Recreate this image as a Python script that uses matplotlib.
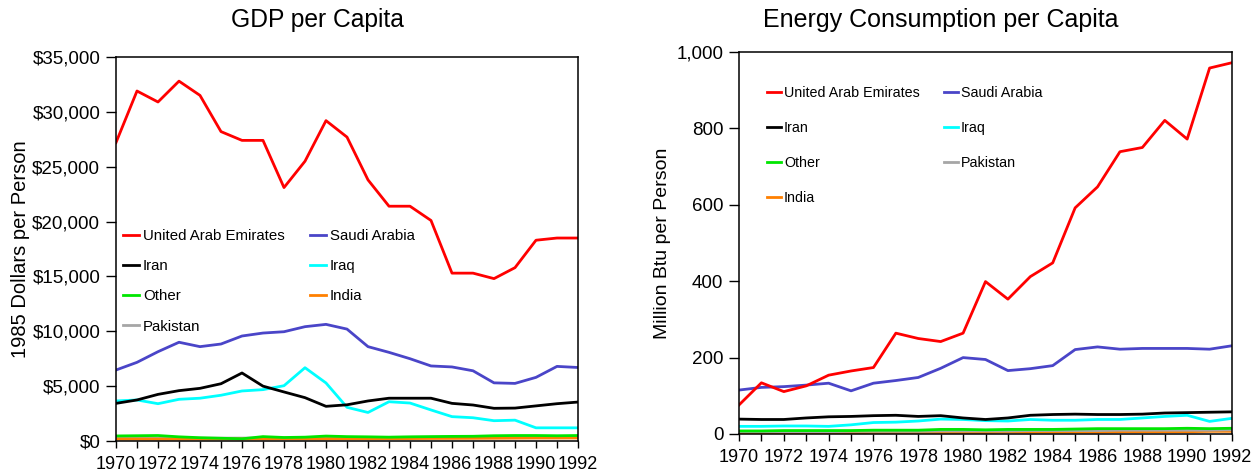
import matplotlib
matplotlib.use("Agg")
import matplotlib.pyplot as plt
from matplotlib import font_manager as fm
from matplotlib.ticker import FuncFormatter, MultipleLocator

years = list(range(1970, 1993))

# GDP per capita (1985 dollars per person)
gdp_uae = [27200, 31900, 30900, 32800, 31500, 28200, 27400, 27400, 23100, 25500, 29200, 27700,
           23800, 21400, 21400, 20100, 15300, 15300, 14800, 15800, 18300, 18500, 18500]
gdp_saudi = [6470, 7170, 8140, 9000, 8600, 8840, 9570, 9840, 9960, 10420, 10630, 10200,
             8600, 8080, 7500, 6840, 6750, 6400, 5300, 5250, 5800, 6800, 6700]
gdp_iran = [3430, 3740, 4250, 4590, 4800, 5220, 6200, 5000, 4470, 3950, 3160, 3300,
            3650, 3900, 3900, 3900, 3430, 3280, 2980, 3000, 3200, 3400, 3550]
gdp_iraq = [3650, 3740, 3400, 3800, 3900, 4170, 4560, 4680, 5040, 6680, 5290, 3070,
            2600, 3580, 3460, 2830, 2220, 2120, 1850, 1900, 1200, 1200, 1200]
gdp_other = [460, 480, 500, 380, 300, 250, 200, 400, 320, 350, 450, 400,
             380, 350, 380, 400, 420, 430, 480, 500, 500, 480, 500]
gdp_india = [180, 180, 175, 175, 180, 185, 185, 190, 200, 195, 200, 205,
             210, 215, 220, 230, 235, 240, 250, 260, 270, 270, 275]
gdp_pakistan = [250, 255, 250, 250, 255, 260, 265, 270, 280, 285, 300, 310,
                320, 330, 340, 350, 360, 370, 375, 380, 385, 390, 395]

# Energy consumption per capita (million Btu per person)
en_uae = [76, 134, 111, 126, 154, 165, 174, 264, 250, 242, 264, 399,
          353, 412, 448, 592, 647, 739, 750, 821, 772, 958, 972]
en_saudi = [115, 122, 124, 128, 133, 113, 133, 140, 148, 172, 200, 195,
            166, 171, 179, 221, 228, 222, 224, 224, 224, 222, 231]
en_iran = [39, 38, 38, 42, 45, 46, 48, 49, 46, 48, 42, 38,
           42, 49, 51, 52, 51, 51, 52, 55, 56, 57, 58]
en_iraq = [20, 20, 21, 21, 20, 24, 30, 31, 34, 39, 38, 35,
           34, 38, 36, 36, 38, 38, 42, 46, 49, 33, 41]
en_other = [8, 8, 9, 9, 9, 9, 10, 10, 10, 12, 12, 11,
            12, 12, 12, 13, 14, 14, 14, 14, 15, 14, 15]
en_pakistan = [6, 6, 6, 6, 6, 7, 7, 7, 7, 8, 8, 8,
               8, 9, 9, 9, 9, 10, 10, 10, 10, 10, 11]
en_india = [3, 3, 3, 3, 3, 3, 4, 4, 4, 4, 4, 4,
            5, 5, 5, 5, 5, 6, 6, 6, 6, 7, 7]

names = ["United Arab Emirates", "Saudi Arabia", "Iran", "Iraq", "Other", "India", "Pakistan"]
colors = {"United Arab Emirates": "#ff0000", "Saudi Arabia": "#4a45c8", "Iran": "#000000",
          "Iraq": "#00ffff", "Other": "#00e600", "India": "#ff8000", "Pakistan": "#a6a6a6"}

plt.rcParams['font.family'] = ['Liberation Sans', 'DejaVu Sans']

avail = {f.name for f in fm.fontManager.ttflist}
if 'Liberation Sans Narrow' in avail:
    narrow_family, narrow_size = ['Liberation Sans Narrow', 'Liberation Sans'], 12.0
else:
    narrow_family, narrow_size = ['Liberation Sans', 'DejaVu Sans'], 10.3

W, H = 1260, 476
fig = plt.figure(figsize=(W / 100, H / 100), dpi=100)
ax1 = fig.add_axes([116 / W, (H - 441) / H, 462 / W, 384 / H])
ax2 = fig.add_axes([739 / W, (H - 434) / H, 493 / W, 382 / H])

lw = 2.0
gdp = {"United Arab Emirates": gdp_uae, "Saudi Arabia": gdp_saudi, "Iran": gdp_iran,
       "Iraq": gdp_iraq, "Other": gdp_other, "India": gdp_india, "Pakistan": gdp_pakistan}
en = {"United Arab Emirates": en_uae, "Saudi Arabia": en_saudi, "Iran": en_iran,
      "Iraq": en_iraq, "Other": en_other, "India": en_india, "Pakistan": en_pakistan}

h1 = {}
for n in ["Pakistan", "India", "Other", "Iraq", "Iran", "Saudi Arabia", "United Arab Emirates"]:
    h1[n], = ax1.plot(years, gdp[n], color=colors[n], lw=lw, label=n)
h2 = {}
for n in ["India", "Pakistan", "Other", "Iraq", "Iran", "Saudi Arabia", "United Arab Emirates"]:
    h2[n], = ax2.plot(years, en[n], color=colors[n], lw=lw, label=n)

for ax in (ax1, ax2):
    ax.set_xlim(1970, 1992)
    ax.xaxis.set_major_locator(MultipleLocator(2))
    ax.xaxis.set_minor_locator(MultipleLocator(1))
    ax.tick_params(axis='x', which='both', length=5, width=1, labelsize=13, pad=5.5)
    ax.tick_params(axis='y', which='both', length=7, width=1, labelsize=13.5, pad=4.3)
    for s in ax.spines.values():
        s.set_linewidth(1.1)

ax1.set_ylim(0, 35000)
ax1.yaxis.set_major_locator(MultipleLocator(5000))
ax1.yaxis.set_major_formatter(FuncFormatter(lambda v, p: "${:,.0f}".format(v)))
ax1.set_ylabel("1985 Dollars per Person", fontsize=14.5)
ax1.yaxis.set_label_coords(-(116 - 30) / 462, 0.5)

ax2.set_ylim(0, 1000)
ax2.yaxis.set_major_locator(MultipleLocator(200))
ax2.yaxis.set_major_formatter(FuncFormatter(lambda v, p: "{:,.0f}".format(v)))
ax2.set_ylabel("Million Btu per Person", fontsize=14)
ax2.yaxis.set_label_coords(-(739 - 671) / 493, 0.5)

fig.text(317 / W, 1 - 27.3 / H, "GDP per Capita", fontsize=17.7, ha='center', va='baseline')
fig.text(941 / W, 1 - 27.3 / H, "Energy Consumption per Capita", fontsize=18, ha='center', va='baseline')

order1 = ["United Arab Emirates", "Iran", "Other", "Pakistan", "Saudi Arabia", "Iraq", "India"]
fs1 = 10.8
px1 = fs1 * 100 / 72
ax1.legend([h1[n] for n in order1], order1, ncol=2, loc='upper left',
           bbox_to_anchor=(7 / 462, (441 - 229) / 384), frameon=False, fontsize=fs1,
           handlelength=16 / px1, handletextpad=4 / px1, columnspacing=25 / px1,
           labelspacing=(30.3 - 0.94 * px1) / px1, borderpad=0, borderaxespad=0)

order2 = ["United Arab Emirates", "Iran", "Other", "India", "Saudi Arabia", "Iraq", "Pakistan"]
px2 = narrow_size * 100 / 72
ax2.legend([h2[n] for n in order2], order2, ncol=2, loc='upper left',
           bbox_to_anchor=(28 / 493, (434 - 86) / 382), frameon=False,
           prop={'family': narrow_family, 'size': narrow_size},
           handlelength=14 / px2, handletextpad=3 / px2, columnspacing=24 / px2,
           labelspacing=(34.5 - 0.94 * px2) / px2, borderpad=0, borderaxespad=0)

fig.savefig("out.png", dpi=100)
